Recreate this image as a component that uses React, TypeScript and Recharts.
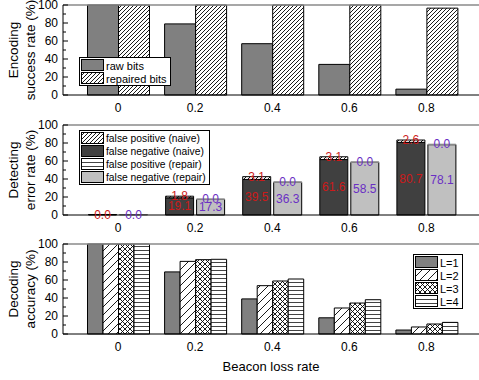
import React from 'react';
import { BarChart, Bar, XAxis, YAxis, ReferenceLine, Legend, LabelList } from 'recharts';

const categories = ['0', '0.2', '0.4', '0.6', '0.8'];

// panel 1: encoding success rate (%)
const rawBits = [100, 79, 57, 34, 6.5];
const repairedBits = [100, 100, 100, 100, 96.5];

// panel 2: detecting error rate (%)
const fnNaive = [0, 19.1, 39.5, 61.6, 80.7];
const fpNaive = [0, 1.8, 3.1, 3.1, 2.6];
const fnRepair = [0, 17.3, 36.3, 58.5, 78.1];
const fpRepair = [0, 0, 0, 0, 0];

// panel 3: decoding accuracy (%)
const accL1 = [100, 69, 39, 18, 4.4];
const accL2 = [100, 80.7, 53.7, 28.9, 7.8];
const accL3 = [100, 82.6, 58.9, 34.4, 11.1];
const accL4 = [100, 83, 61.1, 38.1, 12.9];

const yTicks = [0, 10, 20, 30, 40, 50, 60, 70, 80, 90, 100];

const encodingData = categories.map((c, i) => ({ rate: c, raw: rawBits[i], repaired: repairedBits[i] }));
const detectData = categories.map((c, i) => ({
  rate: c, fnNaive: fnNaive[i], fpNaive: fpNaive[i], fnRepair: fnRepair[i], fpRepair: fpRepair[i],
}));
const decodeData = categories.map((c, i) => ({ rate: c, l1: accL1[i], l2: accL2[i], l3: accL3[i], l4: accL4[i] }));

const FONT = '"Liberation Sans", Arial, Helvetica, sans-serif';
const RED = '#cc1a1a';
const PURPLE = '#6a2fc4';

const Patterns = () => (
  <defs>
    <pattern id="hatchDense" patternUnits="userSpaceOnUse" width="4" height="4">
      <rect width="4" height="4" fill="#fff" />
      <path d="M-1,1 l2,-2 M0,4 l4,-4 M3,5 l2,-2" stroke="#000" strokeWidth="0.9" />
    </pattern>
    <pattern id="hatchWide" patternUnits="userSpaceOnUse" width="8" height="8">
      <rect width="8" height="8" fill="#fff" />
      <path d="M-2,2 l4,-4 M0,8 l8,-8 M6,10 l4,-4" stroke="#000" strokeWidth="0.9" />
    </pattern>
    <pattern id="crossHatch" patternUnits="userSpaceOnUse" width="5" height="5">
      <rect width="5" height="5" fill="#fff" />
      <path d="M0,5 l5,-5 M-1,1 l2,-2 M4,6 l2,-2 M0,0 l5,5 M-1,4 l2,2 M4,-1 l2,2" stroke="#000" strokeWidth="0.9" />
    </pattern>
    <pattern id="hLines" patternUnits="userSpaceOnUse" width="4" height="4">
      <rect width="4" height="4" fill="#fff" />
      <line x1="0" y1="0.5" x2="4" y2="0.5" stroke="#444" strokeWidth="1" />
    </pattern>
  </defs>
);

const YTick = (props: any) => {
  const { x, y, payload } = props;
  const major = payload.value % 20 === 0;
  return (
    <g>
      <line x1={x} y1={y} x2={x + (major ? 5 : 3)} y2={y} stroke="#000" />
      {major && (
        <text x={x - 5} y={y} dy={4} textAnchor="end" fontSize={12} fill="#000">
          {payload.value}
        </text>
      )}
    </g>
  );
};

const YTitle = (props: any) => {
  const { viewBox, lines } = props;
  const cy = viewBox.y + viewBox.height / 2;
  return (
    <g>
      {lines.map((t: string, i: number) => (
        <text key={t} x={0} y={0} transform={`translate(${13 + i * 17},${cy}) rotate(-90)`}
          textAnchor="middle" dominantBaseline="central" fontSize={13.5} fill="#000">
          {t}
        </text>
      ))}
    </g>
  );
};

type LegendItem = { label: string; fill: string };

const LegendBox = ({ items, fontSize }: { items: LegendItem[]; fontSize: number }) => (
  <div style={{ border: '1px solid #000', background: '#fff', padding: '1px 1px 0 1px', fontFamily: FONT }}>
    {items.map((it) => (
      <div key={it.label} style={{ display: 'flex', alignItems: 'center', height: 13, fontSize, whiteSpace: 'nowrap' }}>
        <svg width={24} height={13} style={{ display: 'block' }}>
          <rect x={0.5} y={0.5} width={22} height={11} fill={it.fill} stroke="#000" />
        </svg>
        <span style={{ marginLeft: 1, marginRight: 2 }}>{it.label}</span>
      </div>
    ))}
  </div>
);

const legend1: LegendItem[] = [
  { label: 'raw bits', fill: '#808080' },
  { label: 'repaired bits', fill: 'url(#hatchDense)' },
];
const legend2: LegendItem[] = [
  { label: 'false positive (naive)', fill: 'url(#hatchDense)' },
  { label: 'false negative (naive)', fill: '#404040' },
  { label: 'false positive (repair)', fill: 'url(#hLines)' },
  { label: 'false negative (repair)', fill: '#c0c0c0' },
];
const legend3: LegendItem[] = [
  { label: 'L=1', fill: '#808080' },
  { label: 'L=2', fill: 'url(#hatchWide)' },
  { label: 'L=3', fill: 'url(#crossHatch)' },
  { label: 'L=4', fill: 'url(#hLines)' },
];

const makeCenterLabel = (color: string) => (props: any) => {
  const { x, y, width, height, value } = props;
  if (!value) return null;
  return (
    <text x={x + width / 2} y={y + height / 2} dy={4} textAnchor="middle" fontSize={12} fill={color}>
      {Number(value).toFixed(1)}
    </text>
  );
};

const makeTopLabel = (color: string) => (props: any) => {
  const { x, y, width, value } = props;
  return (
    <text x={x + width / 2} y={y} dy={4} textAnchor="middle" fontSize={12} fill={color}>
      {Number(value).toFixed(1)}
    </text>
  );
};

const xPad = { left: 16.5, right: 14 };
const chartMargin = { top: 10, right: 0, left: 0, bottom: 0 };
const svgStyle = { overflow: 'visible' as const };

const commonAxes = (title: string[], xHeight: number, withTitle = false) => [
  <XAxis key="x" dataKey="rate" tickLine={false} axisLine={{ stroke: '#000' }} padding={xPad}
    tick={{ fontSize: 12, fill: '#000' }} height={xHeight}
    label={withTitle ? { value: 'Beacon loss rate', position: 'insideBottom', offset: 8, fontSize: 13, fill: '#000' } : undefined} />,
  <YAxis key="y" width={63} domain={[0, 100]} ticks={yTicks} interval={0} tickLine={false} tickSize={0} tickMargin={0}
    axisLine={{ stroke: '#000' }} tick={<YTick />} label={<YTitle lines={title} />} />,
  <ReferenceLine key="top" y={100} stroke="#8a8a8a" strokeWidth={1.5} />,
];

const App = () => (
  <div style={{ position: 'absolute', left: 0, top: 0, width: 479, height: 380, background: '#fff', fontFamily: FONT, overflow: 'hidden' }}>
    <div style={{ position: 'absolute', left: 0, top: -5 }}>
      <BarChart width={479} height={125} data={encodingData} margin={chartMargin} barGap={0} style={svgStyle}>
        <Patterns />
        {commonAxes(['Encoding', 'success rate (%)'], 25)}
        <Bar dataKey="raw" barSize={31} fill="#808080" stroke="#000" isAnimationActive={false} />
        <Bar dataKey="repaired" barSize={31} fill="url(#hatchDense)" stroke="#000" isAnimationActive={false} />
        <Legend layout="vertical" align="center" verticalAlign="middle"
          wrapperStyle={{ left: 79, top: 62, width: 'auto', height: 'auto' }}
          content={() => <LegendBox items={legend1} fontSize={11} />} />
      </BarChart>
    </div>
    <div style={{ position: 'absolute', left: 0, top: 115 }}>
      <BarChart width={479} height={125} data={detectData} margin={chartMargin} barGap={3} style={svgStyle}>
        <Patterns />
        {commonAxes(['Detecting', 'error rate (%)'], 25)}
        <Bar dataKey="fnNaive" stackId="naive" barSize={28} fill="#404040" stroke="#000" isAnimationActive={false}>
          <LabelList dataKey="fnNaive" content={makeCenterLabel(RED)} />
        </Bar>
        <Bar dataKey="fpNaive" stackId="naive" barSize={28} minPointSize={0.5} fill="url(#hatchDense)" stroke="#000" isAnimationActive={false}>
          <LabelList dataKey="fpNaive" content={makeTopLabel(RED)} />
        </Bar>
        <Bar dataKey="fnRepair" stackId="repair" barSize={28} fill="#c0c0c0" stroke="#000" isAnimationActive={false}>
          <LabelList dataKey="fnRepair" content={makeCenterLabel(PURPLE)} />
        </Bar>
        <Bar dataKey="fpRepair" stackId="repair" barSize={28} minPointSize={0.5} fill="url(#hLines)" stroke="#888" isAnimationActive={false}>
          <LabelList dataKey="fpRepair" content={makeTopLabel(PURPLE)} />
        </Bar>
        <Legend layout="vertical" align="center" verticalAlign="middle"
          wrapperStyle={{ left: 79, top: 15, width: 'auto', height: 'auto' }}
          content={() => <LegendBox items={legend2} fontSize={10.3} />} />
      </BarChart>
    </div>
    <div style={{ position: 'absolute', left: 0, top: 234 }}>
      <BarChart width={479} height={145} data={decodeData} margin={chartMargin} barGap={0} style={svgStyle}>
        <Patterns />
        {commonAxes(['Decoding', 'accuracy (%)'], 45, true)}
        <Bar dataKey="l1" barSize={15.5} fill="#808080" stroke="#000" isAnimationActive={false} />
        <Bar dataKey="l2" barSize={15.5} fill="url(#hatchWide)" stroke="#000" isAnimationActive={false} />
        <Bar dataKey="l3" barSize={15.5} fill="url(#crossHatch)" stroke="#000" isAnimationActive={false} />
        <Bar dataKey="l4" barSize={15.5} fill="url(#hLines)" stroke="#000" isAnimationActive={false} />
        <Legend layout="vertical" align="center" verticalAlign="middle"
          wrapperStyle={{ left: 413, top: 20, width: 'auto', height: 'auto' }}
          content={() => <LegendBox items={legend3} fontSize={11} />} />
      </BarChart>
    </div>
  </div>
);

export default App;
